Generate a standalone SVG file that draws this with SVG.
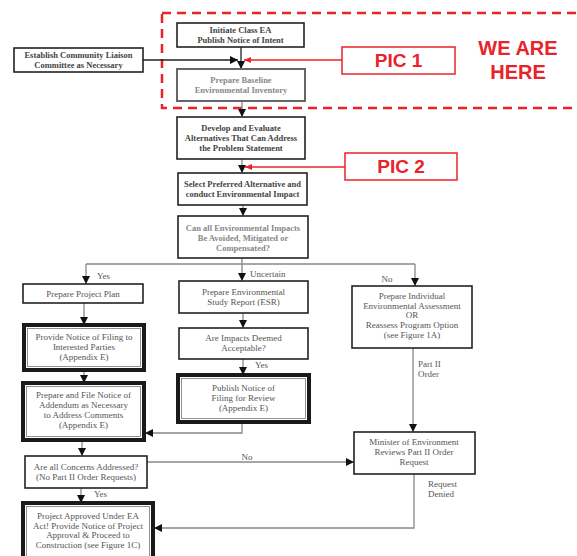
<svg xmlns="http://www.w3.org/2000/svg" width="577" height="556" viewBox="0 0 577 556">
<defs>
<marker id="ah" markerUnits="userSpaceOnUse" markerWidth="9" markerHeight="9" refX="8" refY="4.5" orient="auto"><path d="M0,0.5 L8,4.5 L0,8.5 Z" fill="#111"/></marker>
<marker id="ar" markerUnits="userSpaceOnUse" markerWidth="8" markerHeight="8" refX="7" refY="4" orient="auto"><path d="M0,1 L7,4 L0,7 Z" fill="#e8232a"/></marker>
</defs>
<style>
.b{fill:#fff;stroke:#222;stroke-width:1.6}
.g{fill:#fff;stroke:#666;stroke-width:2}
.t{fill:#fff;stroke:#1a1a1a;stroke-width:4}
.ti{fill:none;stroke:#777;stroke-width:0.8}
text{font-family:"Liberation Serif","Times New Roman",serif;font-size:9px;fill:#555;text-anchor:middle}
.bd{font-weight:bold;fill:#444;font-size:8.5px}
.lt{fill:#888}
.lb{text-anchor:start}
.c{fill:none;stroke:#888;stroke-width:1.3}
.k{fill:none;stroke:#222;stroke-width:1.3}
.red{fill:none;stroke:#e8232a;stroke-width:1.5}
.rt{font-family:"Liberation Sans",Arial,sans-serif;font-weight:bold;fill:#e8232a;font-size:19px}
.rh{font-size:20px}
</style>

<rect x="162" y="13" width="420" height="95" fill="none" stroke="#e8232a" stroke-width="2.5" stroke-dasharray="9,6"/>

<g id="connectors">
<path class="k" d="M241,47 V69" marker-end="url(#ah)"/>
<path class="k" d="M143,60 H238" marker-end="url(#ah)"/>
<path class="c" d="M242,101 V117" marker-end="url(#ah)"/>
<path class="c" d="M242,159 V173" marker-end="url(#ah)"/>
<path class="c" d="M243,205 V216" marker-end="url(#ah)"/>
<path class="c" d="M242,258 V281" marker-end="url(#ah)"/>
<path class="c" d="M86,264 H415"/>
<path class="c" d="M86,264 V284" marker-end="url(#ah)"/>
<path class="c" d="M415,264 V286" marker-end="url(#ah)"/>
<path class="c" d="M84,303 V325" marker-end="url(#ah)"/>
<path class="c" d="M243,313 V328" marker-end="url(#ah)"/>
<path class="c" d="M243,359 V375" marker-end="url(#ah)"/>
<path class="c" d="M84,370 V383" marker-end="url(#ah)"/>
<path class="c" d="M242,422 V433 H145" marker-end="url(#ah)"/>
<path class="c" d="M82,440 V456" marker-end="url(#ah)"/>
<path class="c" d="M147,462 H354" marker-end="url(#ah)"/>
<path class="c" d="M81,488 V503" marker-end="url(#ah)"/>
<path class="c" d="M413,348 V432" marker-end="url(#ah)"/>
<path class="c" d="M414,474 V528 H154" marker-end="url(#ah)"/>
<path class="red" d="M342,60 H244" marker-end="url(#ar)"/>
<path class="red" d="M345,167 H245" marker-end="url(#ar)"/>
</g>

<g id="n-initiate"><rect class="b" x="177" y="23" width="127" height="24"/>
<text class="bd" x="240.5" y="33">Initiate Class EA</text><text class="bd" x="240.5" y="43">Publish Notice of Intent</text></g>

<g id="n-liaison"><rect class="b" x="14" y="48" width="129" height="24"/>
<text class="bd" x="78.5" y="58">Establish Community Liaison</text><text class="bd" x="78.5" y="68">Committee as Necessary</text></g>

<g id="n-baseline"><rect class="g" x="177" y="69" width="128" height="32"/>
<text class="bd lt" x="241" y="83">Prepare Baseline</text><text class="bd lt" x="241" y="93">Environmental Inventory</text></g>

<g id="n-develop"><rect class="b" x="177" y="117" width="128" height="42"/>
<text class="bd" x="241" y="131">Develop and Evaluate</text><text class="bd" x="241" y="141">Alternatives That Can Address</text><text class="bd" x="241" y="151">the Problem Statement</text></g>

<g id="n-select"><rect class="b" x="178" y="173" width="129" height="32"/>
<text class="bd" x="242.5" y="187">Select Preferred Alternative and</text><text class="bd" x="242.5" y="197">conduct Environmental Impact</text></g>

<g id="n-canall"><rect class="b" x="178" y="216" width="130" height="42"/>
<text class="bd lt" x="243" y="231">Can all Environmental Impacts</text><text class="bd lt" x="243" y="241">Be Avoided, Mitigated or</text><text class="bd lt" x="243" y="251">Compensated?</text></g>

<text x="97" y="279" class="lb">Yes</text>
<text x="250" y="277" class="lb">Uncertain</text>
<text x="387" y="282">No</text>

<g id="n-plan"><rect class="b" x="23" y="284" width="120" height="19"/>
<text x="83" y="297">Prepare Project Plan</text></g>

<g id="n-esr"><rect class="b" x="179" y="281" width="129" height="32"/>
<text x="243.5" y="295">Prepare Environmental</text><text x="243.5" y="305">Study Report (ESR)</text></g>

<g id="n-individual"><rect class="b" x="352" y="286" width="120" height="62"/>
<text x="412" y="299">Prepare Individual</text><text x="412" y="309">Environmental Assessment</text><text x="412" y="318">OR</text><text x="412" y="328">Reassess Program Option</text><text x="412" y="338">(see Figure 1A)</text></g>

<g id="n-provide"><rect class="t" x="24" y="325" width="120" height="45"/><rect class="ti" x="27.5" y="328.5" width="113" height="38"/>
<text x="84" y="340">Provide Notice of Filing to</text><text x="84" y="350">Interested Parties</text><text x="84" y="360">(Appendix E)</text></g>

<g id="n-acceptable"><rect class="b" x="179" y="328" width="129" height="31"/>
<text x="243.5" y="341">Are Impacts Deemed</text><text x="243.5" y="351">Acceptable?</text></g>
<text x="255" y="368" class="lb">Yes</text>

<text x="418" y="367" class="lb">Part II</text><text x="418" y="377" class="lb">Order</text>

<g id="n-publish"><rect class="t" x="178" y="375" width="131" height="47"/><rect class="ti" x="181.5" y="378.5" width="124" height="40"/>
<text x="243.5" y="391">Publish Notice of</text><text x="243.5" y="401">Filing for Review</text><text x="243.5" y="411">(Appendix E)</text></g>

<g id="n-addendum"><rect class="t" x="23" y="383" width="121" height="57"/><rect class="ti" x="26.5" y="386.5" width="114" height="50"/>
<text x="83.5" y="398">Prepare and File Notice of</text><text x="83.5" y="408">Addendum as Necessary</text><text x="83.5" y="418">to Address Comments</text><text x="83.5" y="428">(Appendix E)</text></g>

<g id="n-minister"><rect class="b" x="354" y="432" width="121" height="42"/>
<text x="414" y="445">Minister of Environment</text><text x="414" y="455">Reviews Part II Order</text><text x="414" y="465">Request</text></g>

<g id="n-concerns"><rect class="b" x="25" y="456" width="122" height="32"/>
<text x="86" y="470">Are all Concerns Addressed?</text><text x="86" y="480">(No Part II Order Requests)</text></g>
<text x="247" y="460">No</text>
<text x="94" y="497" class="lb">Yes</text>
<text x="428" y="487" class="lb">Request</text><text x="428" y="497" class="lb">Denied</text>

<g id="n-approved"><rect class="t" x="23" y="503" width="130" height="62"/><rect class="ti" x="26.5" y="506.5" width="123" height="55"/>
<text x="88" y="519">Project Approved Under EA</text><text x="88" y="529">Act!  Provide Notice of Project</text><text x="88" y="538">Approval &amp; Proceed to</text><text x="88" y="548">Construction (see Figure 1C)</text></g>

<g id="n-pic1"><rect x="342" y="47" width="113" height="27" fill="#fff" stroke="#e8232a" stroke-width="1.5"/>
<text class="rt" x="398.5" y="67">PIC 1</text></g>
<g id="n-pic2"><rect x="345" y="153" width="112" height="27" fill="#fff" stroke="#e8232a" stroke-width="1.5"/>
<text class="rt" x="401" y="173">PIC 2</text></g>
<g id="n-here"><text class="rt rh" x="518" y="55">WE ARE</text><text class="rt rh" x="518" y="79">HERE</text></g>
</svg>
